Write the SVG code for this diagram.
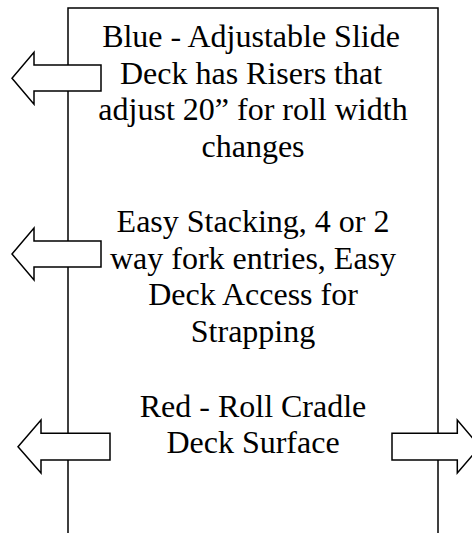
<svg xmlns="http://www.w3.org/2000/svg" width="472" height="533" viewBox="0 0 472 533">
<style>
.box{fill:#fff;stroke:#000;stroke-width:1.5}
.arr{fill:#fff;stroke:#000;stroke-width:1.5;stroke-linejoin:miter}
.t{font-family:'Liberation Serif','Times New Roman',serif;font-size:32px;fill:#000;text-anchor:middle}
</style>
<rect x="0" y="0" width="472" height="533" fill="#fff"/>
<g id="panel">
<rect class="box" x="68" y="8" width="370" height="540"/>
</g>
<g id="text-blue">
<text class="t" x="251" y="46.7">Blue - Adjustable Slide</text>
<text class="t" x="251" y="83.5">Deck has Risers that</text>
<text class="t" x="253" y="120.3">adjust 20” for roll width</text>
<text class="t" x="253" y="157.1">changes</text>
</g>
<g id="text-stacking">
<text class="t" x="253" y="231.7">Easy Stacking, 4 or 2</text>
<text class="t" x="253" y="268.5">way fork entries, Easy</text>
<text class="t" x="253" y="305.3">Deck Access for</text>
<text class="t" x="253" y="342.1">Strapping</text>
</g>
<g id="text-red">
<text class="t" x="253" y="416.5">Red - Roll Cradle</text>
<text class="t" x="253" y="453.3">Deck Surface</text>
</g>
<g id="connectors">
<polygon class="arr" points="101,65 34,65 34,52.3 12,78.3 34,104.3 34,91 101,91"/>
<polygon class="arr" points="101,241 34,241 34,228 12,254 34,280 34,267 101,267"/>
<polygon class="arr" points="110,433.3 41,433.3 41,420 18,446.7 41,473 41,460 110,460"/>
<polygon class="arr" points="392,433.3 457.3,433.3 457.3,420 480,446.7 457.3,473 457.3,460 392,460"/>
</g>
</svg>
